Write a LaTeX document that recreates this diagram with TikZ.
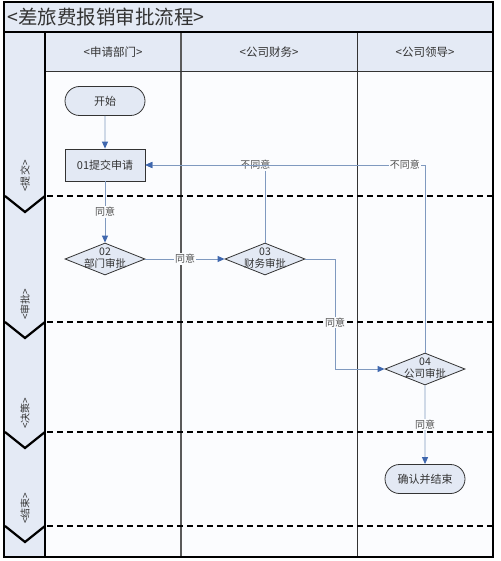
\documentclass[tikz,border=0pt]{standalone}
\usepackage{fontspec}
\setmainfont{Noto Sans CJK SC}
\usetikzlibrary{shapes.geometric,shapes.misc,arrows.meta}
\definecolor{bandfill}{HTML}{E4EAF5}
\definecolor{bodyfill}{HTML}{FBFCFE}
\definecolor{nodefill}{HTML}{E3E9F4}
\definecolor{flowline}{HTML}{7F99BF}
\definecolor{tipblue}{HTML}{3F67AE}
\definecolor{txtgray}{HTML}{333333}
\definecolor{lanegray}{HTML}{5A5A5A}
\tikzset{
  frame/.style={draw=black, line width=1.2pt},
  laneline/.style={draw=lanegray, line width=1.3pt},
  dashline/.style={draw=black, line width=2.2pt, dash pattern=on 6pt off 4pt},
  chev/.style={draw=black, line width=2.2pt, line join=miter},
  titletext/.style={font=\fontsize{19.5}{22}\selectfont, text=txtgray, inner sep=0pt},
  hdrtext/.style={font=\fontsize{11.5}{13}\selectfont, text=txtgray},
  phasetext/.style={font=\fontsize{10}{12}\selectfont, text=txtgray, rotate=90},
  startend/.style={rounded rectangle, draw=txtgray, line width=0.8pt, fill=nodefill,
     minimum width=80pt, minimum height=29pt, inner sep=0pt,
     font=\fontsize{11}{13}\selectfont, text=txtgray},
  procbox/.style={rectangle, draw=txtgray, line width=0.8pt, fill=nodefill,
     minimum width=80pt, minimum height=32pt, inner sep=0pt,
     font=\fontsize{11}{13}\selectfont, text=txtgray},
  dia/.style={diamond, draw=txtgray, line width=0.8pt, fill=nodefill,
     minimum width=80pt, minimum height=32pt, inner sep=0pt},
  diatext/.style={align=center, inner sep=0pt, font=\fontsize{10.5}{12}\selectfont, text=txtgray},
  flow/.style={draw=flowline, line width=0.9pt, -{Triangle[width=6pt,length=7pt,color=tipblue]}},
  lbl/.style={fill=bodyfill, inner sep=1pt, font=\fontsize{10}{12}\selectfont, text=txtgray!85}
}
\begin{document}
\begin{tikzpicture}[x=1pt,y=-1pt]
\useasboundingbox (0,0) rectangle (500,561);
\fill[white] (0,0) rectangle (500,561);
% background bands
\fill[bandfill] (4,2) rectangle (493,32);
\fill[bandfill] (4,32) rectangle (45,557);
\fill[bandfill] (45,32) rectangle (493,72);
\fill[bodyfill] (45,72) rectangle (493,557);
% lane lines
\draw[laneline] (181,32) -- (181,557);
\draw[draw=black!80, line width=1pt] (357,32) -- (357,557);
\draw[draw=black!80, line width=1pt] (45,72) -- (493,72);
\draw[frame] (45,32) -- (45,557);
\draw[frame] (4,32) -- (493,32);
\draw[frame] (4,2) rectangle (493,557);
% phase separators
\foreach \yy in {196,322,432,526}{
  \draw[dashline] (47,\yy) -- (493,\yy);
  \draw[chev] (5,\yy) -- (25,\yy+16) -- (45,\yy);
}
% title and headers
\node[titletext, anchor=west] (title) at (7,17) {<差旅费报销审批流程>};
\node[hdrtext] (h1) at (113,52) {<申请部门>};
\node[hdrtext] (h2) at (269,52) {<公司财务>};
\node[hdrtext] (h3) at (425,52) {<公司领导>};
% phase labels
\node[phasetext] (p1) at (25,176) {<提交>};
\node[phasetext] (p2) at (25,304) {<审批>};
\node[phasetext] (p3) at (25,413) {<决策>};
\node[phasetext] (p4) at (25,508) {<结束>};
% flow nodes
\node[startend] (start) at (105,101) {开始};
\node[procbox] (n01) at (105,165) {01提交申请};
\node[dia] (n02) at (105,259) {};
\node[diatext] (t02) at (105,258) {02\\部门审批};
\node[dia] (n03) at (265,259) {};
\node[diatext] (t03) at (265,258) {03\\财务审批};
\node[dia] (n04) at (425,369) {};
\node[diatext] (t04) at (425,368) {04\\公司审批};
\node[startend] (end) at (425,479) {确认并结束};
\coordinate (k1) at (335,259);
% connectors
\draw[flow] (start) -- (n01);
\draw[flow] (n01) -- node[lbl] {同意} (n02.north);
\draw[flow] (n02.east) -- node[lbl] {同意} (n03.west);
\draw[flow] (n03.north) |- node[lbl, pos=0.54] {不同意} (n01.east);
\draw[flow] (n04.north) |- node[lbl, pos=0.536] {不同意} (n01.east);
\draw[flow] (n03.east) -- (k1) |- node[lbl, pos=0.289] {同意} (n04.west);
\draw[flow] (n04.south) -- node[lbl] {同意} (end);
\end{tikzpicture}
\end{document}
